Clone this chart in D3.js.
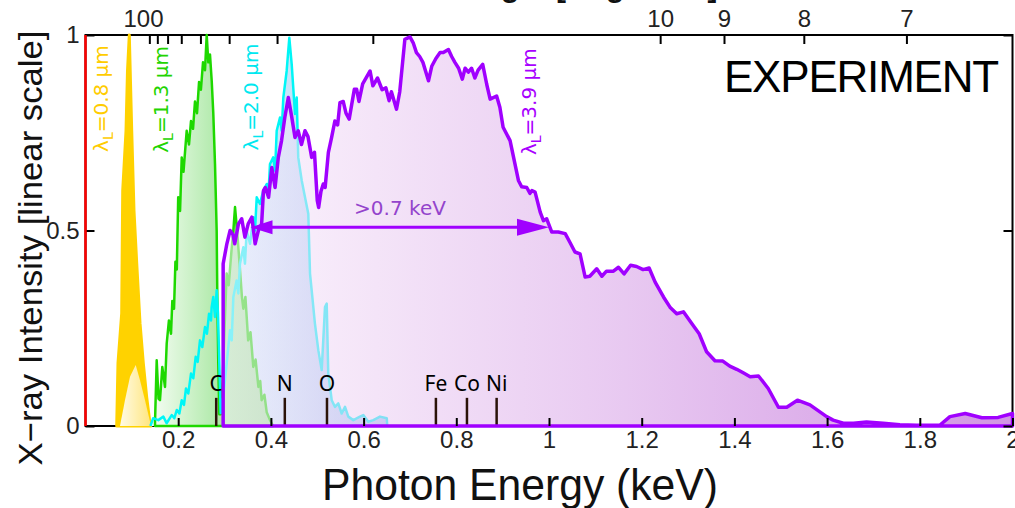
<!DOCTYPE html>
<html><head><meta charset="utf-8">
<script src="https://cdn.jsdelivr.net/npm/d3@7"></script>
<style>body{margin:0;background:#fff}svg{display:block}</style>
</head><body>
<svg id="chart" width="1015" height="508"></svg>
<script>
// hc in keV·Å, converts the top wavelength axis to photon energy
const HC = 12.398;

// Spectra: [photon energy (keV), normalised intensity]
// λL = 0.8 µm: upper and lower envelope of the noisy peak
const peak08Upper = [[0.0673,0],[0.0701,0.161],[0.0781,0.288],[0.0803,0.602],[0.0874,0.755],[0.0906,0.908],[0.0945,1.0],[0.0997,0.755],[0.1046,0.551],[0.1105,0.416],[0.1176,0.263],[0.1247,0.161],[0.132,0.074],[0.139,0.008],[0.141,0]];
const peak08Lower = [[0.0744,0],[0.0852,0.066],[0.096,0.126],[0.1083,0.156],[0.1176,0.117],[0.1284,0.066],[0.139,0.012],[0.140,0]];

// λL = 1.3 µm
const spec13 = [[0.150,0.01],[0.1536,0.168],[0.1575,0.07],[0.1607,0.066],[0.1657,0.151],[0.1715,0.10],[0.1752,0.211],[0.180,0.27],[0.1845,0.236],[0.1873,0.32],[0.191,0.30],[0.194,0.42],[0.197,0.40],[0.200,0.585],[0.204,0.55],[0.2076,0.687],[0.2114,0.65],[0.2183,0.755],[0.2233,0.72],[0.2276,0.78],[0.232,0.76],[0.2362,0.83],[0.2406,0.80],[0.245,0.88],[0.249,0.86],[0.2535,0.93],[0.2578,0.91],[0.2615,1.0],[0.265,0.93],[0.2686,0.95],[0.2723,0.883],[0.2757,0.80],[0.2794,0.67],[0.283,0.50],[0.2844,0.33],[0.2865,0.16],[0.2887,0.03],
  [0.2917,0.03],[0.296,0.12],[0.300,0.25],[0.3046,0.39],[0.309,0.36],[0.315,0.449],[0.319,0.50],[0.3226,0.56],[0.327,0.50],[0.333,0.406],[0.3375,0.33],[0.3405,0.30],[0.345,0.33],[0.351,0.219],[0.356,0.24],[0.362,0.151],[0.367,0.17],[0.373,0.10],[0.377,0.115],[0.380,0.066],[0.386,0.08],[0.391,0.035],[0.398,0.015],[0.405,0]];

// λL = 2.0 µm
const spec20 = [[0.140,0],[0.146,0.02],[0.157,0.015],[0.168,0.024],[0.175,0.007],[0.186,0.028],[0.1917,0.02],[0.197,0.041],[0.2025,0.032],[0.2076,0.066],[0.2125,0.054],[0.2168,0.096],[0.2218,0.083],[0.2276,0.134],[0.2326,0.122],[0.2377,0.177],[0.242,0.164],[0.247,0.219],[0.252,0.202],[0.2578,0.253],[0.262,0.236],[0.2665,0.287],[0.2708,0.27],[0.2722,0.304],[0.2757,0.33],[0.2794,0.279],[0.283,0.347],[0.2858,0.288],[0.2887,0.16],[0.2917,0.033],
  [0.2973,0.075],[0.3046,0.16],[0.3118,0.245],[0.3154,0.219],[0.319,0.33],[0.326,0.372],[0.3297,0.339],[0.3333,0.415],[0.3405,0.457],[0.344,0.415],[0.3478,0.5],[0.355,0.466],[0.362,0.534],[0.3657,0.5],[0.3694,0.585],[0.3765,0.568],[0.3836,0.602],[0.391,0.619],[0.3944,0.585],[0.398,0.67],[0.405,0.687],[0.409,0.653],[0.4125,0.755],[0.4196,0.789],[0.4233,0.755],[0.4268,0.84],[0.434,0.908],[0.4397,0.993],[0.4449,0.925],[0.452,0.798],[0.4557,0.84],[0.459,0.687],[0.4665,0.628],[0.4736,0.585],[0.4807,0.543],[0.4844,0.39],[0.488,0.347],[0.495,0.262],[0.5023,0.194],[0.5096,0.143],[0.5167,0.304],[0.5204,0.313],[0.5238,0.134],[0.5312,0.066],[0.5383,0.049],[0.5454,0.058],[0.5527,0.032],[0.5599,0.049],[0.567,0.024],[0.5778,0.015],[0.5922,0.024],[0.5994,0.028],[0.610,0.011],[0.621,0.015],[0.6354,0.024],[0.650,0.02],[0.651,0]];

// λL = 3.9 µm
const spec39 = [[0.297,0],[0.297,0.415],[0.305,0.466],[0.312,0.50],[0.318,0.49],[0.322,0.466],[0.330,0.517],[0.337,0.53],[0.344,0.483],[0.351,0.517],[0.359,0.534],[0.366,0.466],[0.373,0.50],[0.380,0.517],[0.384,0.602],[0.388,0.61],[0.395,0.585],[0.402,0.661],[0.409,0.61],[0.416,0.687],[0.423,0.73],[0.430,0.789],[0.4376,0.84],[0.445,0.79],[0.452,0.738],[0.459,0.755],[0.466,0.72],[0.4736,0.755],[0.480,0.74],[0.488,0.687],[0.494,0.70],[0.500,0.577],[0.503,0.559],[0.508,0.60],[0.513,0.619],[0.517,0.61],[0.524,0.70],[0.531,0.738],[0.538,0.78],[0.544,0.77],[0.549,0.827],[0.556,0.83],[0.562,0.80],[0.569,0.785],[0.574,0.82],[0.580,0.861],[0.585,0.861],[0.590,0.83],[0.598,0.875],[0.614,0.908],[0.620,0.87],[0.630,0.89],[0.640,0.86],[0.648,0.865],[0.655,0.832],[0.660,0.855],[0.671,0.81],[0.678,0.855],[0.689,0.989],[0.700,0.995],[0.707,0.98],[0.714,0.955],[0.721,0.945],[0.728,0.93],[0.740,0.883],[0.747,0.92],[0.756,0.94],[0.765,0.955],[0.772,0.955],[0.783,0.963],[0.790,0.945],[0.797,0.93],[0.805,0.915],[0.813,0.887],[0.819,0.915],[0.826,0.905],[0.833,0.915],[0.840,0.89],[0.847,0.91],[0.857,0.925],[0.8656,0.874],[0.873,0.836],[0.887,0.844],[0.894,0.815],[0.901,0.764],[0.916,0.73],[0.934,0.628],[0.941,0.612],[0.952,0.61],[0.959,0.595],[0.963,0.602],[0.970,0.598],[0.981,0.547],[0.988,0.525],[0.995,0.53],[1.006,0.496],[1.020,0.496],[1.035,0.492],[1.045,0.47],[1.056,0.445],[1.067,0.44],[1.078,0.381],[1.088,0.383],[1.103,0.402],[1.114,0.383],[1.124,0.396],[1.139,0.396],[1.150,0.406],[1.162,0.389],[1.176,0.411],[1.189,0.408],[1.203,0.40],[1.216,0.404],[1.229,0.368],[1.247,0.33],[1.261,0.304],[1.2755,0.287],[1.290,0.292],[1.308,0.262],[1.324,0.236],[1.340,0.19],[1.358,0.167],[1.375,0.166],[1.390,0.153],[1.405,0.145],[1.419,0.136],[1.434,0.126],[1.452,0.128],[1.473,0.096],[1.495,0.048],[1.513,0.048],[1.536,0.066],[1.563,0.054],[1.599,0.024],[1.613,0.015],[1.635,0.007],[1.657,0.007],[1.685,0.01],[1.721,0.007],[1.757,0.003],[1.793,0.002],[1.843,0.002],[1.865,0.024],[1.898,0.032],[1.934,0.021],[1.969,0.022],[2.0,0.032],[2.0,0]];

// Absorption-edge markers
const edgeNames = ['C','N','O','Fe','Co','Ni'];
const edgeEnergies = [0.282, 0.430, 0.521, 0.756, 0.823, 0.887];

// Axis ticks
const energyTicks = [0.2,0.4,0.6,0.8,1.0,1.2,1.4,1.6,1.8,2.0];
const intensityTicks = [0, 0.5, 1];
const wavelengthTicks = [100,90,80,70,60,50,40,30,20,10,9,8,7];
const wavelengthLabels = [100,10,9,8,7];

// Series labels (laser wavelength) and their anchor positions [energy, intensity]
const laserLabels = ['0.8','1.3','2.0','3.9'];
const laserColors = ['#ffcc00','#22d400','#00e8f0','#a800ff'];
const laserLabelPos = [[0.0486,0.974],[0.178,0.972],[0.372,0.978],[0.972,0.966]];

const svg = d3.select('#chart');
const x = d3.scaleLinear().domain([0,2]).range([85.5,1012.5]);
const y = d3.scaleLinear().domain([0,1]).range([426,35]);
const defs = svg.append('defs');

function gradient(id, e0, e1, stops) {
  const g = defs.append('linearGradient').attr('id', id)
    .attr('gradientUnits','userSpaceOnUse')
    .attr('x1', x(e0)).attr('x2', x(e1)).attr('y1', 0).attr('y2', 0);
  stops.forEach(s => g.append('stop').attr('offset', s[0])
    .attr('stop-color', s[1]).attr('stop-opacity', s[2] === undefined ? 1 : s[2]));
}
gradient('g08', 0.074, 0.14, [[0,'#fffbe6'],[1,'#ffe680']]);
gradient('g13', 0.15, 0.40, [[0,'#f2fcf0'],[0.55,'#aee9a8'],[1,'#9fe39a']]);
gradient('g20', 0.14, 0.65, [[0,'#eefaff'],[0.3,'#dcf4fd'],[1,'#aacbf2']]);
gradient('g39', 0.297, 2.0, [[0,'rgb(248,240,252)',0.55],[0.15,'rgb(238,213,244)',0.55],[0.5,'rgb(214,158,230)',0.55],[1,'rgb(172,62,204)',0.55]]);

// frame
svg.append('rect').attr('x', x(0)).attr('y', y(1))
  .attr('width', x(2)-x(0)).attr('height', y(0)-y(1))
  .attr('fill','none').attr('stroke','#000').attr('stroke-width',2);

const area = d3.area().x(d => x(d[0])).y0(y(0)).y1(d => y(d[1]));
const line = d3.line().x(d => x(d[0])).y(d => y(d[1]));

// 0.8 µm peak
svg.append('path').attr('d', area(peak08Upper)).attr('fill','#ffd200')
  .attr('stroke','#ffd200').attr('stroke-width',3).attr('stroke-linejoin','round');
svg.append('path').attr('d', area(peak08Lower)).attr('fill','url(#g08)');

// 2.0 µm fill, 1.3 µm fill + line, 2.0 µm line
svg.append('path').attr('d', area(spec20)).attr('fill','url(#g20)');
svg.append('path').attr('d', area(spec13)).attr('fill','url(#g13)')
  .attr('stroke','#1ed800').attr('stroke-width',2.5).attr('stroke-linejoin','round');
svg.append('path').attr('d', line(spec20)).attr('fill','none')
  .attr('stroke','#00f6f6').attr('stroke-width',2.5).attr('stroke-linejoin','round');

// 3.9 µm translucent fill
svg.append('path').attr('d', area(spec39)).attr('fill','url(#g39)');

// edge markers
const edges = svg.append('g');
edgeNames.forEach((name, i) => {
  edges.append('line').attr('x1', x(edgeEnergies[i])).attr('x2', x(edgeEnergies[i]))
    .attr('y1', y(0.072)).attr('y2', y(0)).attr('stroke','#2a1208').attr('stroke-width',2.5);
  edges.append('text').attr('x', x(edgeEnergies[i])).attr('y', y(0.09))
    .attr('text-anchor','middle').attr('font-family','Noto Sans').attr('font-size',21)
    .attr('fill','#000').text(name);
});

// 3.9 µm outline
svg.append('path').attr('d', area(spec39)).attr('fill','none')
  .attr('stroke','#a000ff').attr('stroke-width',3.5).attr('stroke-linejoin','round');

// energy-gain arrow
const arrowY = y(0.508);
svg.append('line').attr('x1', x(0.37)).attr('x2', x(0.94))
  .attr('y1', arrowY).attr('y2', arrowY).attr('stroke','#a000ff').attr('stroke-width',3);
svg.append('path').attr('fill','#a000ff')
  .attr('d', `M${x(1.0)},${arrowY} L${x(1.0)-32},${arrowY-8.5} L${x(1.0)-32},${arrowY+8.5} Z`);
svg.append('path').attr('fill','#a000ff')
  .attr('d', `M${x(0.356)},${arrowY} L${x(0.356)+22},${arrowY-7} L${x(0.356)+22},${arrowY+7} Z`);
svg.append('text').attr('x', x(0.6785)).attr('y', y(0.54)).attr('text-anchor','middle')
  .attr('font-family','DejaVu Sans').attr('font-size',20).attr('fill','#9444cc').text('>0.7 keV');

// laser wavelength labels
laserLabels.forEach((lab, i) => {
  const t = svg.append('text')
    .attr('transform', `translate(${x(laserLabelPos[i][0])},${y(laserLabelPos[i][1])}) rotate(-90)`)
    .attr('text-anchor','end').attr('font-family','DejaVu Sans').attr('font-size',20)
    .attr('fill', laserColors[i]);
  t.append('tspan').text('λ');
  t.append('tspan').attr('font-size',14).attr('dy',5).text('L');
  t.append('tspan').attr('dy',-5).text('=' + lab + ' µm');
});

svg.append('text').attr('x', 998).attr('y', 92).attr('text-anchor','end')
  .attr('font-family','Liberation Sans').attr('font-size',44)
  .attr('letter-spacing',-1.2).text('EXPERIMENT');

// axes
const tickFont = g => g.selectAll('text').attr('font-family','Liberation Sans')
  .attr('font-size',24).attr('fill','#222');
const tickLines = g => g.selectAll('line').attr('stroke','#000').attr('stroke-width',2);

const axisB = svg.append('g').attr('transform', `translate(0,${y(0)})`)
  .call(d3.axisBottom(x).tickValues(energyTicks).tickSizeInner(-8).tickSizeOuter(0)
    .tickPadding(5).tickFormat(d3.format('~g')));
axisB.select('.domain').remove(); tickFont(axisB); tickLines(axisB);

const axisL = svg.append('g').attr('transform', `translate(${x(0)},0)`)
  .call(d3.axisLeft(y).tickValues(intensityTicks).tickSizeInner(-9).tickSizeOuter(0)
    .tickPadding(6).tickFormat(d3.format('~g')));
axisL.select('.domain').remove(); tickFont(axisL); tickLines(axisL);

const axisR = svg.append('g').attr('transform', `translate(${x(2)},0)`)
  .call(d3.axisRight(y).tickValues(intensityTicks).tickSizeInner(-9).tickSizeOuter(0).tickFormat(''));
axisR.select('.domain').remove(); tickLines(axisR);

const axisT = svg.append('g').attr('transform', `translate(0,${y(1)})`)
  .call(d3.axisTop(x).tickValues(wavelengthTicks.map(l => HC / l)).tickSizeInner(-9)
    .tickSizeOuter(0).tickPadding(8)
    .tickFormat(d => { const l = Math.round(HC / d); return wavelengthLabels.includes(l) ? String(l) : ''; }));
axisT.select('.domain').remove(); tickFont(axisT); tickLines(axisT);
axisT.selectAll('.tick').filter(d => Math.round(HC / d) === 100).select('line').remove();

// left axis line drawn in red
svg.append('line').attr('x1', x(0)).attr('x2', x(0)).attr('y1', y(0)).attr('y2', y(1))
  .attr('stroke','#ff0000').attr('stroke-width',2.5);

// axis titles
svg.append('text').attr('x', 520).attr('y', 500).attr('text-anchor','middle')
  .attr('font-family','Liberation Sans').attr('font-size',44)
  .attr('textLength',396).attr('lengthAdjust','spacingAndGlyphs').attr('fill','#111')
  .text('Photon Energy (keV)');
svg.append('text').attr('transform','translate(42,248) rotate(-90)').attr('text-anchor','middle')
  .attr('font-family','Liberation Sans').attr('font-size',34)
  .attr('textLength',435).attr('lengthAdjust','spacingAndGlyphs').attr('fill','#111')
  .text('X\u2212ray Intensity [linear scale]');
svg.append('text').attr('x', x(1)).attr('y', -3).attr('text-anchor','middle')
  .attr('font-family','Liberation Sans').attr('font-weight','bold').attr('font-size',30)
  .attr('fill','#111').text('Wavelength [Ångstrom]');
</script>
</body></html>
